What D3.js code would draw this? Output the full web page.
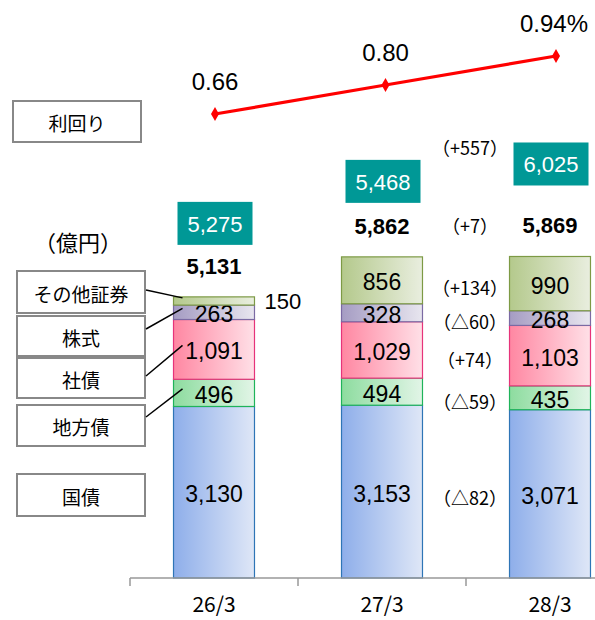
<!DOCTYPE html>
<html>
<head>
<meta charset="utf-8">
<script src="https://cdn.jsdelivr.net/npm/d3@7"></script>
<style>
  body { margin: 0; background: #fff; }
  text { font-family: "Liberation Sans", Arial, sans-serif; }
  .jp { font-family: "Noto Sans CJK JP", sans-serif; }
</style>
</head>
<body>
<div class="chart"></div>
<script>
// data
const periods = ["26/3", "27/3", "28/3"];
const kinds = ["国債", "地方債", "社債", "株式", "その他証券"];
const kokusai = [3130, 3153, 3071];
const chihousai = [496, 494, 435];
const shasai = [1091, 1029, 1103];
const kabushiki = [263, 328, 268];
const sonota = [150, 856, 990];
const totals = [5131, 5862, 5869];
const jika = [5275, 5468, 6025];
const yields = [0.66, 0.80, 0.94];
const yieldLabels = ["0.66", "0.80", "0.94%"];
const changes = ["（△82）", "（△59）", "（+74）", "（△60）", "（+134）"];
const changeTotal = "（+7）";
const changeJika = "（+557）";

const width = 595;
const height = 620;

const colors = [
    { from: "#8eaeea", to: "#dfe7f7", line: "#2e75b6" },
    { from: "#8ddc9f", to: "#e2f5e7", line: "#1fb35a" },
    { from: "#ff87a2", to: "#ffe0e7", line: "#e6337a" },
    { from: "#a59cc3", to: "#e8e6ef", line: "#7b6aa3" },
    { from: "#b4c98c", to: "#e9eedf", line: "#7d9a45" }
];

const svg = d3.select(".chart")
    .append("svg")
    .attr("width", width)
    .attr("height", height);

const defs = svg.append("defs");
colors.forEach(function (c, i) {
    let g = defs.append("linearGradient")
        .attr("id", "grad" + i)
        .attr("x1", "0%").attr("x2", "100%")
        .attr("y1", "0%").attr("y2", "0%");
    g.append("stop").attr("offset", "0%").attr("stop-color", c.from);
    g.append("stop").attr("offset", "100%").attr("stop-color", c.to);
});

const x = d3.scaleBand()
    .domain(periods)
    .range([130, 634])
    .paddingInner(0.518)
    .paddingOuter(0.259);

const y = d3.scaleLinear()
    .domain([0, 10000])
    .range([578, 30]);

// stacked table
let table = periods.map(function (p, i) {
    return { period: p, "国債": kokusai[i], "地方債": chihousai[i], "社債": shasai[i], "株式": kabushiki[i], "その他証券": sonota[i] };
});
let series = d3.stack().keys(kinds)(table);

series.forEach(function (s, k) {
    svg.selectAll(".seg" + k)
        .data(s)
        .enter()
        .append("rect")
        .attr("x", d => x(d.data.period))
        .attr("y", d => y(d[1]))
        .attr("width", x.bandwidth())
        .attr("height", d => y(d[0]) - y(d[1]))
        .attr("fill", "url(#grad" + k + ")")
        .attr("stroke", colors[k].line)
        .attr("stroke-width", 1.2);

    svg.selectAll(".lab" + k)
        .data(s)
        .enter()
        .append("text")
        .filter(d => !(k == 4 && d.data.period == "26/3"))
        .attr("x", d => x(d.data.period) + x.bandwidth() / 2)
        .attr("y", d => (y(d[0]) + y(d[1])) / 2 + 2)
        .attr("text-anchor", "middle")
        .attr("dominant-baseline", "central")
        .attr("font-size", "23px")
        .attr("fill", "#000")
        .text(d => d3.format(",")(d.data[kinds[k]]));
});

// small "150" sits outside the first bar
svg.append("text")
    .attr("x", x(periods[0]) + x.bandwidth() + 10)
    .attr("y", (y(series[4][0][0]) + y(series[4][0][1])) / 2 + 1)
    .attr("dominant-baseline", "central")
    .attr("font-size", "22px")
    .text(sonota[0]);

// totals
svg.selectAll(".total")
    .data(totals)
    .enter()
    .append("text")
    .attr("x", (d, i) => x(periods[i]) + x.bandwidth() / 2)
    .attr("y", (d, i) => y(series[4][i][1]) - 23)
    .attr("text-anchor", "middle")
    .attr("font-size", "22px")
    .attr("font-weight", "bold")
    .text(d => d3.format(",")(d));

// teal boxes
const boxLift = [52, 54, 71];
const boxW = 75, boxH = 43;
let boxes = svg.selectAll(".jika")
    .data(jika)
    .enter()
    .append("g")
    .attr("transform", (d, i) => "translate(" + (x(periods[i]) + x.bandwidth() / 2 - boxW / 2 + 1) + "," + (y(series[4][i][1]) - boxLift[i] - boxH) + ")");
boxes.append("rect")
    .attr("width", boxW)
    .attr("height", boxH)
    .attr("fill", "#009896");
boxes.append("text")
    .attr("x", boxW / 2)
    .attr("y", boxH / 2 + 1)
    .attr("text-anchor", "middle")
    .attr("dominant-baseline", "central")
    .attr("font-size", "22px")
    .attr("fill", "#fff")
    .text(d => d3.format(",")(d));

// change annotations next to the last bar
const last = periods.length - 1;
const cx = (x(periods[1]) + x.bandwidth() + x(periods[2])) / 2 + 4;
svg.selectAll(".chg")
    .data(changes)
    .enter()
    .append("text")
    .attr("class", "jp")
    .attr("x", cx)
    .attr("y", (d, k) => (y(series[k][last][0]) + y(series[k][last][1])) / 2 + 3)
    .attr("text-anchor", "middle")
    .attr("dominant-baseline", "central")
    .attr("font-size", "18px")
    .text(d => d);
svg.append("text")
    .attr("class", "jp")
    .attr("x", cx)
    .attr("y", y(series[4][last][1]) - 31)
    .attr("text-anchor", "middle")
    .attr("dominant-baseline", "central")
    .attr("font-size", "18px")
    .text(changeTotal);
svg.append("text")
    .attr("class", "jp")
    .attr("x", cx)
    .attr("y", y(series[4][last][1]) - boxLift[last] - boxH / 2 - 17)
    .attr("text-anchor", "middle")
    .attr("dominant-baseline", "central")
    .attr("font-size", "18px")
    .text(changeJika);

// axis
svg.append("line")
    .attr("x1", 130).attr("x2", width)
    .attr("y1", y(0)).attr("y2", y(0))
    .attr("stroke", "#999").attr("stroke-width", 1.5);
svg.selectAll(".tick")
    .data(periods)
    .enter()
    .append("line")
    .attr("x1", d => x(d) - x.step() * x.paddingOuter())
    .attr("x2", d => x(d) - x.step() * x.paddingOuter())
    .attr("y1", y(0)).attr("y2", y(0) + 8)
    .attr("stroke", "#999").attr("stroke-width", 1.5);
svg.selectAll(".cat")
    .data(periods)
    .enter()
    .append("text")
    .attr("class", "jp")
    .attr("x", d => x(d) + x.bandwidth() / 2)
    .attr("y", 612)
    .attr("text-anchor", "middle")
    .attr("font-size", "21px")
    .text(d => d);

// yield line
const xl = d3.scalePoint().domain(periods).range([215, 556]);
const yl = d3.scaleLinear().domain([0.66, 0.94]).range([114, 56]);
svg.append("path")
    .datum(yields)
    .attr("fill", "none")
    .attr("stroke", "#ff0000")
    .attr("stroke-width", 3.2)
    .attr("d", d3.line().x((d, i) => xl(periods[i])).y(d => yl(d)));
svg.selectAll(".dot")
    .data(yields)
    .enter()
    .append("path")
    .attr("d", d3.symbol().type(d3.symbolDiamond).size(55))
    .attr("transform", (d, i) => "translate(" + xl(periods[i]) + "," + yl(d) + ")")
    .attr("fill", "#ff0000");
svg.selectAll(".ylab")
    .data(yields)
    .enter()
    .append("text")
    .attr("x", (d, i) => xl(periods[i]) + (i == 2 ? -2 : 0))
    .attr("y", d => yl(d) - 24)
    .attr("text-anchor", "middle")
    .attr("font-size", "24px")
    .text((d, i) => yieldLabels[i]);

// legend boxes on the left
function legendBox(label, x0, y0, w, h) {
    svg.append("rect")
        .attr("x", x0).attr("y", y0)
        .attr("width", w).attr("height", h)
        .attr("fill", "#fff")
        .attr("stroke", "#888")
        .attr("stroke-width", 2);
    svg.append("text")
        .attr("class", "jp")
        .attr("x", x0 + w / 2)
        .attr("y", y0 + h / 2 + 1)
        .attr("text-anchor", "middle")
        .attr("dominant-baseline", "central")
        .attr("font-size", "19px")
        .text(label);
}
legendBox("利回り", 13, 101, 128, 41);

svg.append("text")
    .attr("class", "jp")
    .attr("x", 78)
    .attr("y", 251)
    .attr("text-anchor", "middle")
    .attr("font-size", "22px")
    .text("（億円）");

const legendTop = [474, 405, 358, 316, 271];
const legendH = [42, 41, 40, 40, 42];
const leaderY = [null, 417, 376, 329, 290];
kinds.forEach(function (k, i) {
    legendBox(k, 17, legendTop[i], 128, legendH[i]);
    if (leaderY[i] != null) {
        let s = series[i][0];
        svg.append("line")
            .attr("x1", 146).attr("y1", leaderY[i])
            .attr("x2", x(periods[0]) + 9)
            .attr("y2", i == 4 ? y(s[1]) + 1 : (y(s[0]) + y(s[1])) / 2 - 4)
            .attr("stroke", "#000")
            .attr("stroke-width", 1.5);
    }
});
</script>
</body>
</html>
